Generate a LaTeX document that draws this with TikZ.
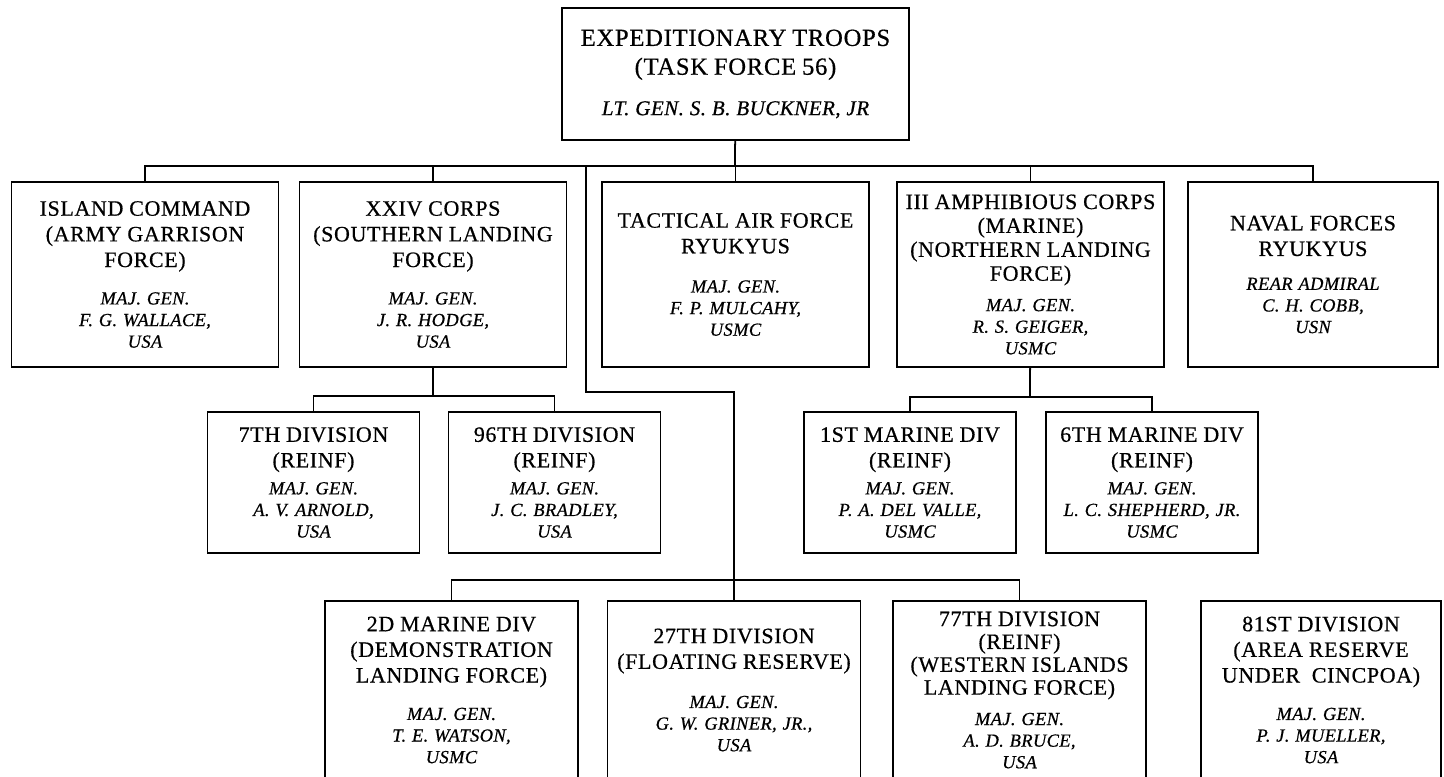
\documentclass[tikz,border=0pt]{standalone}
\usepackage{fontspec}
\setmainfont{Liberation Serif}
\newfontfamily\ttlfont[LetterSpace=3,FakeBold=0.6]{Liberation Serif}
\newfontfamily\cmdfont[LetterSpace=2,FakeBold=0.6]{Liberation Serif}
% unit name and commander
\newcommand{\ttl}[2][14.6]{{\ttlfont\fontsize{12.5}{#1}\selectfont #2\par}}
\newcommand{\cmdr}[2][8pt]{{\vspace{#1}\cmdfont\itshape\fontsize{10.5}{12.3}\selectfont #2\par}}
\tikzset{
  unitbox/.style={draw, line width=1pt, inner xsep=0pt, inner ysep=2pt,
    align=center, text width=#1},
  rowone/.style={unitbox=5.34cm, minimum height=3.7cm},
  rowtwo/.style={unitbox=4.24cm, minimum height=2.82cm},
  rowthree/.style={unitbox=5.06cm, minimum height=3.56cm},
}
\begin{document}
\begin{tikzpicture}[x=0.02cm, y=-0.02cm]
      \useasboundingbox (0,0) rectangle (1444,777);
      \clip (0,0) rectangle (1444,777);
      \path
        (735.5,74) node[unitbox=6.94cm, minimum height=2.64cm] (top)
          {{\ttlfont\fontsize{14}{16.4}\selectfont EXPEDITIONARY TROOPS\\(TASK FORCE 56)\par}%
           {\vspace{9pt}\cmdfont\itshape\fontsize{12}{14}\selectfont LT. GEN. S. B. BUCKNER, JR\par}}
        (145,274.5) node[rowone] (island)
          {\ttl{ISLAND COMMAND\\(ARMY GARRISON\\FORCE)}\cmdr[9pt]{MAJ. GEN.\\F. G. WALLACE,\\USA}}
        (433,274.5) node[rowone] (xxiv)
          {\ttl{XXIV CORPS\\(SOUTHERN LANDING\\FORCE)}\cmdr[9pt]{MAJ. GEN.\\J. R. HODGE,\\USA}}
        (735.5,274.5) node[rowone] (tactical)
          {\ttl{TACTICAL AIR FORCE\\RYUKYUS}\cmdr[10pt]{MAJ. GEN.\\F. P. MULCAHY,\\USMC}}
        (1030.5,274.5) node[rowone] (amph)
          {\ttl[13.6]{III AMPHIBIOUS CORPS\\(MARINE)\\(NORTHERN LANDING\\FORCE)}\cmdr[5pt]{MAJ. GEN.\\R. S. GEIGER,\\USMC}}
        (1313,274.5) node[unitbox=5cm, minimum height=3.7cm] (naval)
          {\ttl{NAVAL FORCES\\RYUKYUS}\cmdr[7pt]{REAR ADMIRAL\\C. H. COBB,\\USN}}
        (313.5,482.5) node[rowtwo] (div7)
          {\ttl{7TH DIVISION\\(REINF)}\cmdr[3pt]{MAJ. GEN.\\A. V. ARNOLD,\\USA}}
        (554.5,482.5) node[rowtwo] (div96)
          {\ttl{96TH DIVISION\\(REINF)}\cmdr[3pt]{MAJ. GEN.\\J. C. BRADLEY,\\USA}}
        (910,482.5) node[rowtwo] (mar1)
          {\ttl{1ST MARINE DIV\\(REINF)}\cmdr[3pt]{MAJ. GEN.\\P. A. DEL VALLE,\\USMC}}
        (1152,482.5) node[rowtwo] (mar6)
          {\ttl{6TH MARINE DIV\\(REINF)}\cmdr[3pt]{MAJ. GEN.\\L. C. SHEPHERD, JR.\\USMC}}
        (451.5,690) node[rowthree] (div2m)
          {\ttl{2D MARINE DIV\\(DEMONSTRATION\\LANDING FORCE)}\cmdr[9pt]{MAJ. GEN.\\T. E. WATSON,\\USMC}}
        (734,690) node[rowthree] (div27)
          {\ttl{27TH DIVISION\\(FLOATING RESERVE)}\cmdr[10pt]{MAJ. GEN.\\G. W. GRINER, JR.,\\USA}}
        (1019.5,690) node[rowthree] (div77)
          {\ttl[13]{77TH DIVISION\\(REINF)\\(WESTERN ISLANDS\\LANDING FORCE)}\cmdr[5pt]{MAJ. GEN.\\A. D. BRUCE,\\USA}}
        (1321,690) node[unitbox=4.8cm, minimum height=3.56cm] (div81)
          {\ttl{81ST DIVISION\\(AREA RESERVE\\UNDER\ \ CINCPOA)}\cmdr[9pt]{MAJ. GEN.\\P. J. MUELLER,\\USA}};
      \coordinate (bus1) at (735,166);
      \coordinate (jog) at (586,392);
      \coordinate (bus2) at (433,396);
      \coordinate (bus3) at (1030,397);
      \coordinate (bus4) at (733,580);
      \begin{scope}[line width=1pt]
        \draw (top) -- (bus1);
        \draw (island) |- (bus1) -| (naval);
        \draw (xxiv) -- (xxiv |- bus1);
        \draw (tactical) -- (tactical |- bus1);
        \draw (amph) -- (amph |- bus1);
        \draw (jog |- bus1) -- (jog) -| (div27);
        \draw (div2m) |- (bus4) -| (div77);
        \draw (xxiv) -- (bus2);
        \draw (div7) |- (bus2) -| (div96);
        \draw (amph) -- (bus3);
        \draw (mar1) |- (bus3) -| (mar6);
      \end{scope}
    \end{tikzpicture}
\end{document}
